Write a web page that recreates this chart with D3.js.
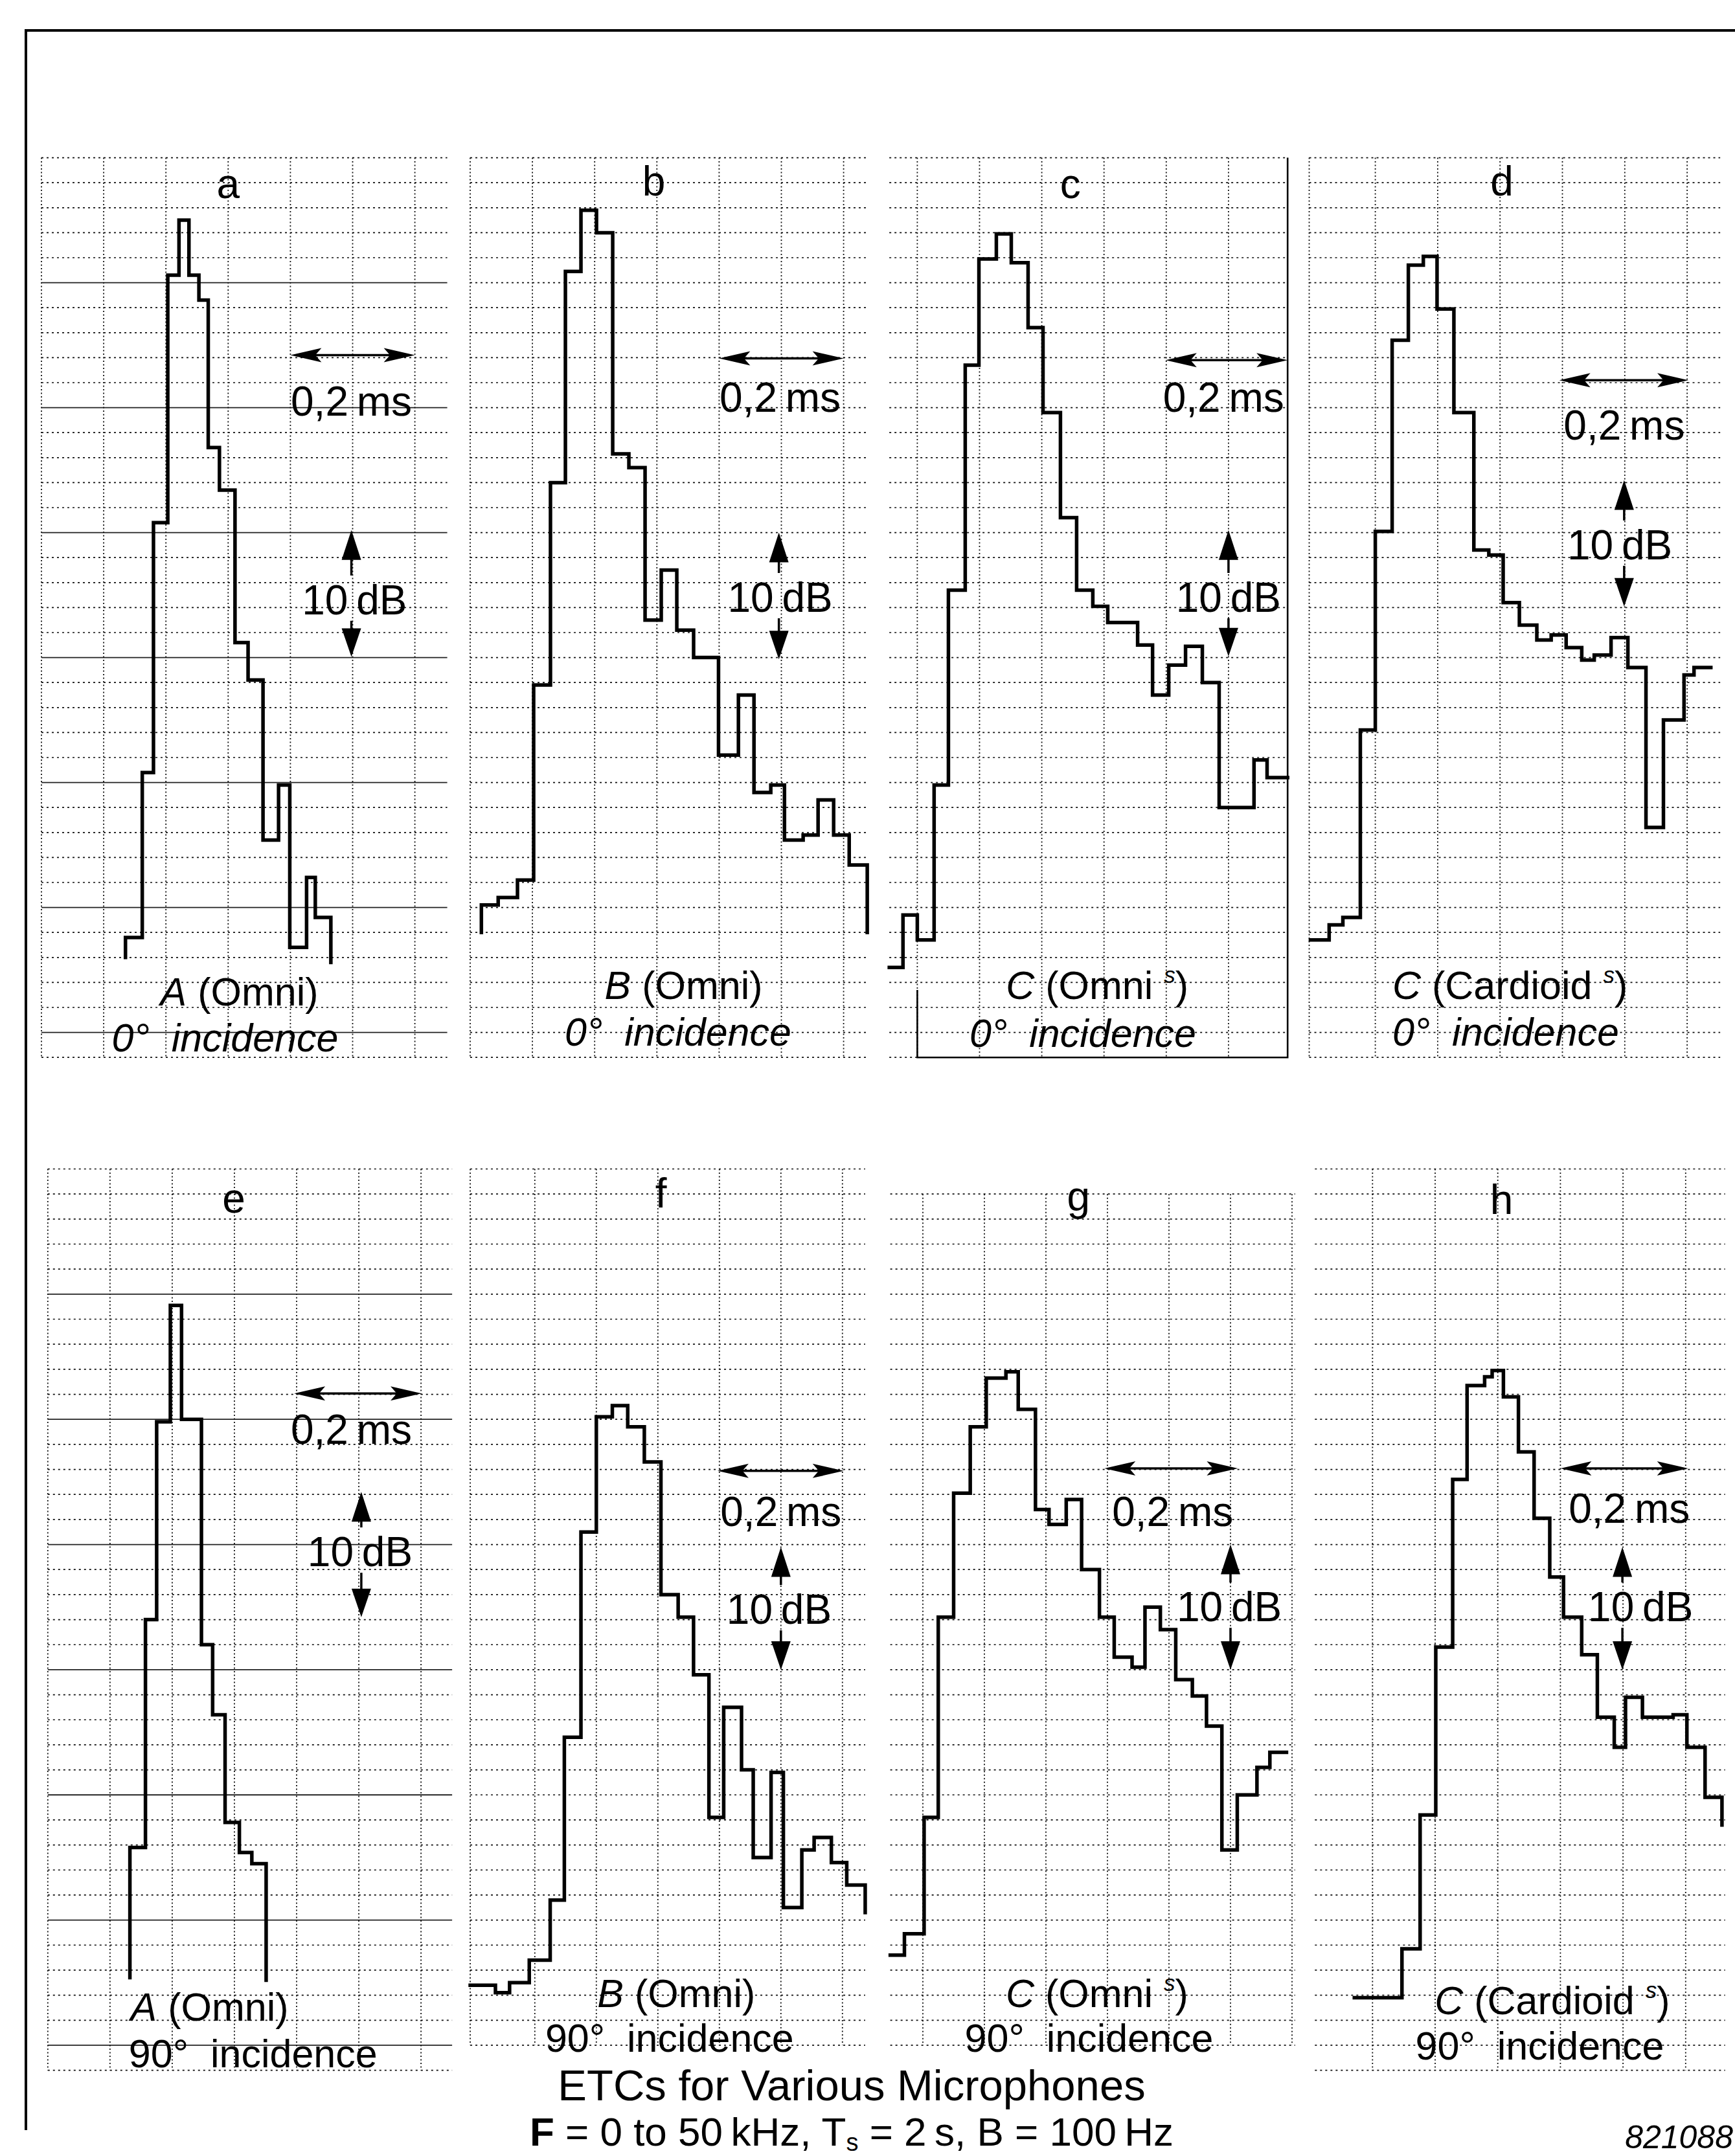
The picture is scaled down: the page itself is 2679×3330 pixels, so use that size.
<!DOCTYPE html>
<html><head><meta charset="utf-8">
<script src="https://cdn.jsdelivr.net/npm/d3@7"></script>
<style>
body{margin:0;background:#fff}
svg{display:block}
text{font-family:"Liberation Sans",Arial,Helvetica,sans-serif;fill:#000}
</style>
</head><body>
<svg id="chart" width="2679" height="3330"></svg>
<script>
// ---------------- DATA ----------------
const panelIds   = ["a","b","c","d","e","f","g","h"];
const micNames   = ["A","B","C","C","A","B","C","C"];
const micTypes   = ["Omni","Omni","Omni","Cardioid","Omni","Omni","Omni","Cardioid"];
const micSuper   = [false,false,true,true,false,false,true,true];
const incidences = ["0°","0°","0°","0°","90°","90°","90°","90°"];
const timeScaleLabel  = "0,2\u2009ms";
const levelScaleLabel = "10\u2009dB";
const titleText = "ETCs for Various Microphones";
const figureCode = "821088";

// time in ms (from panel grid origin), level in dB (0 = top grid line)
const aTime  = [0.135,0.135,0.162,0.180,0.203,0.221,0.237,0.253,0.268,0.286,0.311,0.332,0.356,0.381,0.399,0.426,0.440,0.465];
const aLevel = [-64.0,-62.4,-49.2,-29.2,-9.4,-5.0,-9.4,-11.4,-23.2,-26.6,-38.8,-41.8,-54.6,-50.2,-63.2,-57.6,-60.8,-64.4];

const bTime  = [0.018,0.018,0.045,0.076,0.102,0.129,0.153,0.178,0.203,0.229,0.255,0.281,0.307,0.332,0.359,0.399,0.431,0.456,0.483,0.505,0.535,0.559,0.584,0.609,0.638];
const bLevel = [-62.0,-59.8,-59.2,-57.8,-42.2,-26.0,-9.1,-4.2,-6.0,-23.7,-24.8,-37.0,-33.0,-37.8,-40.0,-47.8,-43.0,-50.8,-50.2,-54.6,-54.2,-51.4,-54.2,-56.6,-62.0];

const cTime  = [-0.045,-0.023,0.000,0.027,0.050,0.077,0.099,0.127,0.151,0.178,0.202,0.230,0.256,0.282,0.306,0.354,0.378,0.404,0.431,0.458,0.485,0.541,0.562,0.595];
const cLevel = [-64.8,-60.6,-62.6,-50.2,-34.6,-16.6,-8.1,-6.1,-8.4,-13.6,-20.4,-28.8,-34.6,-35.9,-37.2,-39.0,-43.0,-40.6,-39.1,-42.0,-52.0,-48.2,-49.6,-49.6];

const dTime  = [-0.004,0.026,0.048,0.076,0.100,0.127,0.153,0.177,0.199,0.226,0.258,0.282,0.305,0.331,0.359,0.382,0.406,0.431,0.451,0.478,0.505,0.534,0.562,0.595,0.611,0.638];
const dLevel = [-62.6,-61.4,-60.8,-45.8,-29.9,-14.6,-8.6,-7.9,-12.1,-20.4,-31.4,-31.8,-35.6,-37.4,-38.6,-38.2,-39.2,-40.2,-39.8,-38.4,-40.8,-53.6,-45.0,-41.4,-40.8,-40.8];

const eTime  = [0.132,0.132,0.157,0.175,0.197,0.215,0.247,0.265,0.285,0.308,0.328,0.351];
const eLevel = [-64.6,-54.2,-36.0,-20.2,-10.9,-20.0,-38.0,-43.6,-52.2,-54.6,-55.5,-64.8];

const fTime  = [-0.005,0.036,0.059,0.091,0.125,0.148,0.175,0.200,0.226,0.251,0.278,0.305,0.333,0.358,0.383,0.407,0.436,0.455,0.484,0.504,0.534,0.554,0.582,0.607,0.637];
const fLevel = [-65.2,-65.8,-65.0,-63.2,-58.4,-45.4,-29.0,-19.8,-18.9,-20.6,-23.4,-34.0,-35.8,-40.4,-51.8,-43.0,-48.0,-55.0,-48.2,-59.0,-54.4,-53.4,-55.4,-57.2,-59.4];

const gTime  = [-0.053,-0.030,0.002,0.025,0.050,0.077,0.103,0.135,0.155,0.183,0.205,0.233,0.258,0.287,0.311,0.340,0.361,0.386,0.411,0.438,0.461,0.486,0.511,0.543,0.564,0.591];
const gLevel = [-62.8,-61.1,-51.8,-35.8,-25.9,-20.6,-16.7,-16.2,-19.2,-27.2,-28.4,-26.4,-32.0,-35.8,-39.0,-39.8,-35.0,-36.8,-40.8,-42.1,-44.5,-54.4,-50.0,-47.8,-46.6,-46.6];

const hTime  = [-0.029,0.047,0.076,0.101,0.128,0.151,0.179,0.191,0.209,0.233,0.258,0.283,0.305,0.334,0.359,0.386,0.404,0.431,0.480,0.502,0.531,0.558];
const hLevel = [-66.2,-62.3,-51.6,-38.2,-24.8,-17.3,-16.6,-16.1,-18.2,-22.6,-27.9,-32.6,-35.8,-38.8,-43.8,-46.2,-42.2,-43.8,-43.6,-46.2,-50.2,-52.4];

const seriesTime  = [aTime,bTime,cTime,dTime,eTime,fTime,gTime,hTime];
const seriesLevel = [aLevel,bLevel,cLevel,dLevel,eLevel,fLevel,gLevel,hLevel];

// ---------------- LAYOUT (pixels; grid units: column = 0.1 ms, row = 2 dB) ----------------
const UP_Y0 = 243.6, UP_RH = 38.6, LO_Y0 = 1805.5, LO_RH = 38.67;
const layout = [
 {x0:64,    cw:96.1, y0:UP_Y0, rh:UP_RH, cols:[0,6.52],    rows:[0,36], vcols:[0,1,2,3,4,5,6], solid5:true,
  letter:[3.0,1.17], hA:[4,6,7.9],    hT:[4.98,9.74], vA:[4.98,14.9,19.97], vT:[5.03,17.7], c1:[3.18,33.35], c2:[2.95,35.2]},
 {x0:726,   cw:96.1, y0:UP_Y0, rh:UP_RH, cols:[0,6.4],     rows:[0,36], vcols:[0,1,2,3,4,5,6],
  letter:[2.95,1.06], hA:[4,6,8.03],  hT:[4.98,9.6],  vA:[4.96,15.0,20.07], vT:[4.98,17.6], c1:[3.43,33.1], c2:[3.34,34.95]},
 {x0:1416.4,cw:96.1, y0:UP_Y0, rh:UP_RH, cols:[-0.45,5.95], rows:[0,36], vcols:[0,1,2,3,4,5], boxC:true,
  letter:[2.46,1.17], hA:[3.99,5.95,8.1], hT:[4.92,9.6], vA:[5.0,14.9,19.95], vT:[5.0,17.6], c1:[2.89,33.1], c2:[2.66,35.0]},
 {x0:2027.3,cw:96.3, y0:UP_Y0, rh:UP_RH, cols:[-0.06,6.53], rows:[0,36], vcols:[-0.06,1,2,3,4,5,6],
  letter:[3.03,1.06], hA:[3.95,6.02,8.9], hT:[4.99,10.7], vA:[4.99,12.9,17.96], vT:[4.92,15.5], c1:[3.16,33.1], c2:[3.09,34.95]},
 {x0:73.8,  cw:96.05,y0:LO_Y0, rh:LO_RH, cols:[0,6.5],     rows:[0,36], vcols:[0,1,2,3,4,5,6], solid5:true,
  letter:[2.99,1.3], hA:[3.96,6.01,8.97], hT:[4.88,10.4], vA:[5.04,12.9,17.9], vT:[5.02,15.3], c1:[2.6,33.45], c2:[3.3,35.3]},
 {x0:730.8, cw:95,   y0:LO_Y0, rh:LO_RH, cols:[-0.05,6.37], rows:[0,35], vcols:[-0.05,1,2,3,4,5,6],
  letter:[3.05,1.1], hA:[3.97,6.02,12.06], hT:[5.0,13.7], vA:[5.0,15.1,20.0], vT:[4.97,17.6], c1:[3.3,32.9], c2:[3.19,34.7]},
 {x0:1425,  cw:95,   y0:LO_Y0, rh:LO_RH, cols:[-0.53,6.05], rows:[1,35], vcols:[0,1,2,3,4,5,6],
  letter:[2.53,1.24], hA:[2.95,5.12,11.96], hT:[4.06,13.7], vA:[5.0,15.0,20.0], vT:[4.98,17.5], c1:[2.83,32.9], c2:[2.7,34.7]},
 {x0:2119.3,cw:96.7, y0:LO_Y0, rh:LO_RH, cols:[-0.92,5.63], rows:[0,36], vcols:[0,1,2,3,4,5],
  letter:[2.06,1.36], hA:[3.0,5.04,11.96], hT:[4.1,13.56], vA:[3.99,15.1,20.0], vT:[4.28,17.5], c1:[2.87,33.2], c2:[2.67,35.0]}
];

// ---------------- DRAW ----------------
const svg = d3.select("#chart");
svg.append("rect").attr("width",2679).attr("height",3330).attr("fill","#fff");

// outer frame (top & left)
svg.append("path").attr("d","M40,3290 L40,47 L2679,47")
   .attr("fill","none").attr("stroke","#000").attr("stroke-width",4);

function hArrow(g, x1, x2, yy){
  const L = 48, W = 11;
  g.append("line").attr("x1",x1+10).attr("x2",x2-10).attr("y1",yy).attr("y2",yy)
    .attr("stroke","#000").attr("stroke-width",3.5);
  g.append("path").attr("d",`M${x1},${yy} L${x1+L},${yy-W} L${x1+L*0.8},${yy} L${x1+L},${yy+W} Z`).attr("fill","#000");
  g.append("path").attr("d",`M${x2},${yy} L${x2-L},${yy-W} L${x2-L*0.8},${yy} L${x2-L},${yy+W} Z`).attr("fill","#000");
}
function vArrowUp(g, xx, tip, end){
  const L = 46, W = 15;
  g.append("line").attr("x1",xx).attr("x2",xx).attr("y1",tip+10).attr("y2",end).attr("stroke","#000").attr("stroke-width",3.5);
  g.append("path").attr("d",`M${xx},${tip} L${xx-W},${tip+L} L${xx+W},${tip+L} Z`).attr("fill","#000");
}
function vArrowDown(g, xx, start, tip){
  const L = 44, W = 15;
  g.append("line").attr("x1",xx).attr("x2",xx).attr("y1",start).attr("y2",tip-10).attr("stroke","#000").attr("stroke-width",3.5);
  g.append("path").attr("d",`M${xx},${tip} L${xx-W},${tip-L} L${xx+W},${tip-L} Z`).attr("fill","#000");
}

layout.forEach((p,i)=>{
  const x = d3.scaleLinear().domain([0,0.1]).range([p.x0,p.x0+p.cw]);
  const y = d3.scaleLinear().domain([0,-2]).range([p.y0,p.y0+p.rh]);
  const px = c => x(c*0.1), py = r => y(-2*r);
  const g = svg.append("g").attr("class","panel-"+panelIds[i]);

  // horizontal grid lines (2 dB each)
  d3.range(p.rows[0], p.rows[1]+1).forEach(r=>{
    const solid = p.solid5 && r%5===0 && r>0 && r<p.rows[1];
    g.append("line")
      .attr("x1",px(p.cols[0])).attr("x2",px(p.cols[1]))
      .attr("y1",py(r)).attr("y2",py(r))
      .attr("stroke", solid ? "#222" : "#111")
      .attr("stroke-width", solid ? 1.8 : 1.7)
      .attr("stroke-dasharray", solid ? null : "3,5");
  });
  // vertical grid lines (0.1 ms each)
  p.vcols.forEach(c=>{
    g.append("line")
      .attr("x1",px(c)).attr("x2",px(c))
      .attr("y1",py(p.rows[0])).attr("y2",py(p.rows[1]))
      .attr("stroke","#111").attr("stroke-width",1.8)
      .attr("stroke-dasharray","2,3.5");
  });
  if (p.boxC){
    g.append("path")
      .attr("d",`M${px(p.cols[1])},${py(0)} L${px(p.cols[1])},${py(36)} L${px(0)},${py(36)} L${px(0)},${py(33.3)}`)
      .attr("fill","none").attr("stroke","#000").attr("stroke-width",2.6);
  }

  // ETC step trace
  const line = d3.line().x(d=>x(d[0])).y(d=>y(d[1])).curve(d3.curveStepAfter);
  g.append("path").datum(d3.zip(seriesTime[i], seriesLevel[i]))
    .attr("d",line).attr("fill","none").attr("stroke","#000")
    .attr("stroke-width",5.5).attr("stroke-linejoin","miter").attr("stroke-linecap","square");

  // panel letter
  g.append("text").attr("x",px(p.letter[0])).attr("y",py(p.letter[1])+17)
    .attr("text-anchor","middle").attr("font-size",64).text(panelIds[i]);

  // 0,2 ms scale arrow
  hArrow(g, px(p.hA[0]), px(p.hA[1]), py(p.hA[2]));
  g.append("text").attr("x",px(p.hT[0])).attr("y",py(p.hT[1])+22)
    .attr("text-anchor","middle").attr("font-size",64).text(timeScaleLabel);

  // 10 dB scale arrow
  const tc = py(p.vT[1]);
  vArrowUp(g, px(p.vA[0]), py(p.vA[1]), tc-38);
  vArrowDown(g, px(p.vA[0]), tc+32, py(p.vA[2]));
  g.append("text").attr("x",px(p.vT[0])).attr("y",tc+22)
    .attr("text-anchor","middle").attr("font-size",64).text(levelScaleLabel);

  // captions
  const CAP = 61;
  const t1 = g.append("text").attr("x",px(p.c1[0])).attr("y",py(p.c1[1])+22)
    .attr("text-anchor","middle").attr("font-size",CAP);
  t1.append("tspan").attr("font-style","italic").text(micNames[i]);
  t1.append("tspan").text(" (" + micTypes[i] + (micSuper[i] ? " " : ""));
  if (micSuper[i]){
    t1.append("tspan").attr("font-style","italic").attr("font-size",35).attr("dy",-25).text("s");
    t1.append("tspan").attr("dy",25).text(")");
  } else {
    t1.append("tspan").text(")");
  }
  const upper = i < 4;
  g.append("text").attr("x",px(p.c2[0])).attr("y",py(p.c2[1])+22)
    .attr("text-anchor","middle").attr("font-size",CAP)
    .attr("font-style", upper ? "italic" : "normal")
    .text(incidences[i] + "\u00a0\u00a0incidence");
});

// title block
svg.append("text").attr("x",1315).attr("y",3244).attr("text-anchor","middle")
  .attr("font-size",67).text(titleText);
const sub = svg.append("text").attr("x",1315).attr("y",3314).attr("text-anchor","middle").attr("font-size",62);
sub.append("tspan").attr("font-weight","bold").text("F");
sub.append("tspan").text(" = 0 to 50\u2009kHz, T");
sub.append("tspan").attr("font-size",38).attr("dy",8).text("s");
sub.append("tspan").attr("dy",-8).text(" = 2\u2009s, B = 100\u2009Hz");

svg.append("text").attr("x",2676).attr("y",3318).attr("text-anchor","end")
  .attr("font-size",50).attr("font-style","italic").text(figureCode);
</script>
</body></html>
